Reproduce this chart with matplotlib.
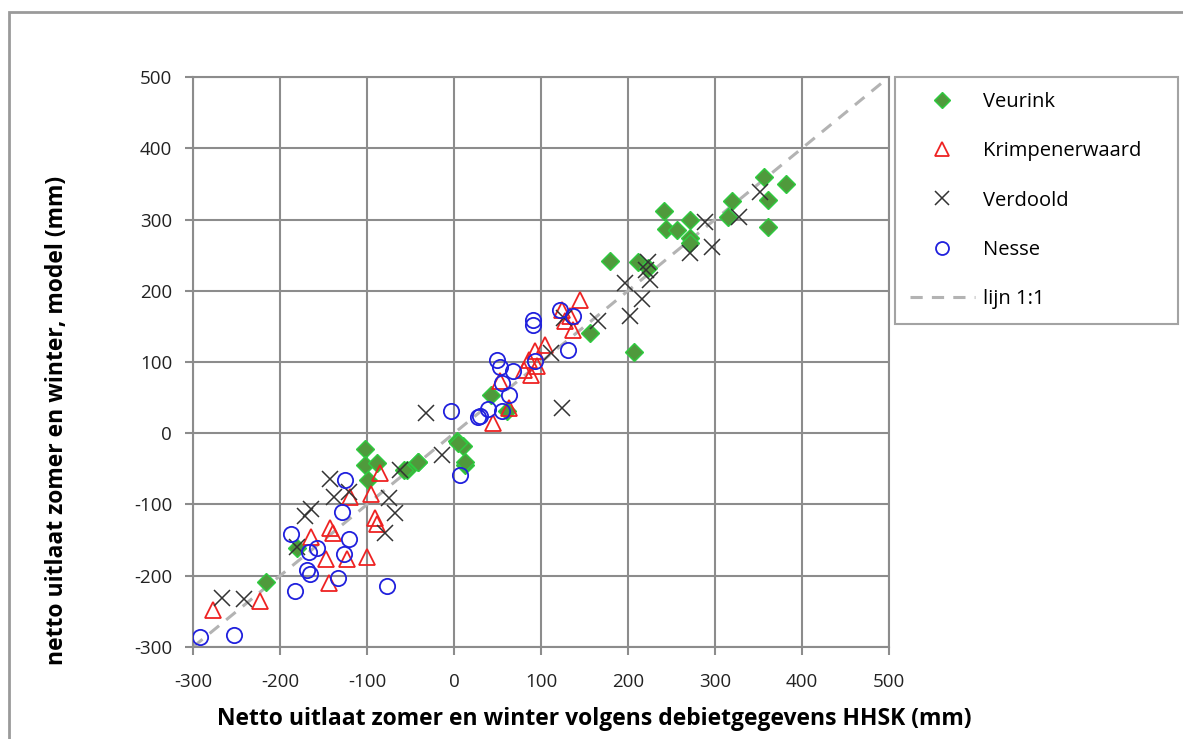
import matplotlib
matplotlib.use("Agg")
import matplotlib.pyplot as plt
from matplotlib.patches import Rectangle

plt.rcParams['font.family'] = ['Open Sans', 'DejaVu Sans']
plt.rcParams['axes.unicode_minus'] = False

# HHSK (x) versus model (y), mm
veurink_x = [-102, -102, -89, -99, -54, -42, 3, 10, 13, -181, -216, 5, 13, -41, -58, 43, 61, 156,
             179, 207, 212, 223, 241, 244, 256, 271, 271, 271, 315, 319, 356, 361, 382, 361]
veurink_y = [-22, -44, -42, -65, -51, -41, -11, -18, -44, -161, -209, -14, -40, -40, -51, 54, 31, 141,
             242, 114, 240, 232, 312, 286, 285, 299, 274, 267, 304, 326, 360, 327, 350, 290]

krimpen_x = [-277, -223, -85, -120, -96, -91, -89, -143, -139, -164, -147, -123, -100, -144,
             45, 53, 63, 80, 89, 86, 93, 105, 95, 133, 137, 128, 145, 124]
krimpen_y = [-248, -236, -56, -89, -85, -119, -128, -133, -140, -145, -176, -176, -173, -210,
             14, 73, 35, 89, 82, 103, 115, 124, 94, 164, 145, 157, 187, 173]

verdoold_x = [-32, -14, -143, -138, -121, -164, -171, -75, -68, -79, -62, -180, -267, -242,
              124, 112, 166, 126, 197, 202, 216, 223, 221, 225, 289, 271, 296, 327, 352]
verdoold_y = [29, -30, -64, -89, -82, -107, -116, -91, -112, -140, -51, -159, -231, -233,
              35, 112, 157, 162, 211, 164, 188, 241, 229, 215, 297, 253, 261, 304, 339]

nesse_x = [-4, 27, 7, -125, -129, -187, -158, -167, -121, -127, -169, -166, -133, -183, -77, -292, -253,
           30, 39, 55, 49, 53, 68, 55, 63, 91, 91, 93, 122, 137, 131]
nesse_y = [31, 23, -58, -65, -110, -142, -161, -167, -149, -170, -192, -198, -203, -222, -215, -286, -283,
           24, 34, 31, 103, 93, 87, 70, 54, 159, 152, 101, 173, 164, 117]

ticks = [-300, -200, -100, 0, 100, 200, 300, 400, 500]

fig = plt.figure(figsize=(11.83, 7.39), dpi=100)
ax = fig.add_axes([0.1632, 0.1245, 0.5883, 0.7713])

ax.plot(ticks, ticks, color='#b3b3b3', lw=2.2, ls=(0, (4, 3)), label='lijn 1:1', zorder=2)
ax.plot(veurink_x, veurink_y, ls='none', marker='D', ms=9.5, mfc='#4f9a3c', mec='#2ecc40',
        mew=1, label='Veurink', zorder=3)
ax.plot(krimpen_x, krimpen_y, ls='none', marker='^', ms=12, mfc='none', mec='#ee2222',
        mew=1.3, label='Krimpenerwaard', zorder=3)
ax.plot(verdoold_x, verdoold_y, ls='none', marker='x', ms=12, mec='#333333',
        mew=1.1, label='Verdoold', zorder=3)
ax.plot(nesse_x, nesse_y, ls='none', marker='o', ms=11, mfc='none', mec='#2020dd',
        mew=1.3, label='Nesse', zorder=3)

ax.set_xlim(-300, 500)
ax.set_ylim(-300, 500)
ax.set_xticks(ticks)
ax.set_yticks(ticks)
ax.grid(True, color='#8c8c8c', lw=1.5)
ax.set_axisbelow(True)
for s in ax.spines.values():
    s.set_color('#8c8c8c')
    s.set_linewidth(1.5)
ax.tick_params(length=6, width=1.5, color='#8c8c8c', labelsize=13.5, labelcolor='#222222')
ax.tick_params(axis='x', pad=13)
ax.tick_params(axis='y', pad=9)

ax.set_xlabel('Netto uitlaat zomer en winter volgens debietgegevens HHSK (mm)',
              fontsize=16.5, fontweight='bold')
ax.set_ylabel('netto uitlaat zomer en winter, model (mm)',
              fontsize=16.5, fontweight='bold')
ax.xaxis.set_label_coords(0.576, -0.105)
ax.yaxis.set_label_coords(-0.178, 0.398)

handles, labels = ax.get_legend_handles_labels()
order = [1, 2, 3, 4, 0]
leg = fig.legend([handles[i] for i in order], [labels[i] for i in order],
                 loc='upper left',
                 bbox_to_anchor=(895 / 1183, 1 - 77 / 739 - 0.01, 283 / 1183, 0.01),
                 mode='expand', fontsize=14.5, markerscale=0.85,
                 frameon=True, fancybox=False, edgecolor='#8c8c8c', borderpad=0.75,
                 labelspacing=1.45, handlelength=3.2, handletextpad=0.4, borderaxespad=0)
leg.get_frame().set_linewidth(1.5)

fig.patches.append(Rectangle((9 / 1183, -0.05), 1.1, 1.05 - 12 / 739, transform=fig.transFigure,
                             fill=False, edgecolor='#9a9a9a', lw=2))

fig.savefig('out.png', dpi=100)
